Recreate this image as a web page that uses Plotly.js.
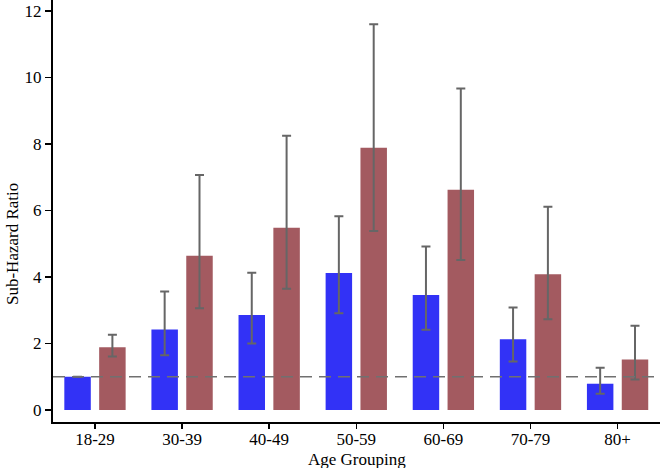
<!DOCTYPE html>
<html>
<head>
<meta charset="utf-8">
<script src="https://cdn.plot.ly/plotly-3.0.1.min.js"></script>
<style>html,body{margin:0;padding:0;background:#fff;}#chart{width:660px;height:468px;}</style>
</head>
<body>
<div id="chart"></div>
<script>
const categories = ["18-29","30-39","40-49","50-59","60-69","70-79","80+"];
const blueValues = [1.0, 2.42, 2.86, 4.12, 3.46, 2.13, 0.79];
const blueUpper  = [1.0, 3.56, 4.13, 5.83, 4.92, 3.08, 1.27];
const blueLower  = [1.0, 1.65, 2.00, 2.91, 2.41, 1.46, 0.49];
const redValues  = [1.89, 4.64, 5.48, 7.89, 6.62, 4.08, 1.52];
const redUpper   = [2.26, 7.07, 8.25, 11.6, 9.67, 6.11, 2.53];
const redLower   = [1.61, 3.06, 3.65, 5.38, 4.51, 2.73, 0.92];
const yTicks = [0, 2, 4, 6, 8, 10, 12];
const referenceLine = 1;

function errs(vals, up, lo) {
  return {
    type: 'data', symmetric: false,
    array: up.map((u, i) => u - vals[i]),
    arrayminus: lo.map((l, i) => vals[i] - l),
    color: '#666666', thickness: 2, width: 4.5
  };
}

const traces = [
  {type: 'bar', x: categories, y: blueValues, marker: {color: '#3232f6'},
   error_y: errs(blueValues, blueUpper, blueLower), hoverinfo: 'skip'},
  {type: 'bar', x: categories, y: redValues, marker: {color: '#a35a60'},
   error_y: errs(redValues, redUpper, redLower), hoverinfo: 'skip'}
];

const font = {family: 'Liberation Serif, Times New Roman, serif', size: 17, color: '#000'};

const layout = {
  width: 660, height: 468,
  margin: {l: 53, r: 0, t: 0, b: 46, pad: 0},
  paper_bgcolor: '#fff', plot_bgcolor: '#fff',
  showlegend: false,
  barmode: 'group', bargap: 0.2, bargroupgap: 0.24,
  font: font,
  xaxis: {
    type: 'category', range: [-0.482, 6.487],
    showline: true, linecolor: '#000', linewidth: 2,
    ticks: 'outside', ticklen: 5, tickcolor: '#000', tickwidth: 1.5,
    ticklabelstandoff: -4,
    showgrid: false, zeroline: false, tickfont: font
  },
  yaxis: {
    range: [-0.361, 12.33], tickvals: yTicks, ticktext: yTicks.map(String),
    showline: true, linecolor: '#000', linewidth: 2,
    ticks: 'outside', ticklen: 6, tickcolor: '#000', tickwidth: 1.5,
    showgrid: false, zeroline: false, tickfont: font
  },
  shapes: [{
    type: 'line', xref: 'paper', x0: 0, x1: 1, yref: 'y', y0: referenceLine, y1: referenceLine,
    line: {color: '#707070', width: 1.5, dash: '12px,7px'}
  }],
  annotations: [
    {text: 'Sub-Hazard Ratio', xref: 'paper', yref: 'paper', x: -41/607, y: (422-244)/422,
     xanchor: 'center', yanchor: 'middle', textangle: -90, showarrow: false, font: font},
    {text: 'Age Grouping', xref: 'paper', yref: 'paper', x: 0.5, y: (422-460)/422,
     xanchor: 'center', yanchor: 'middle', showarrow: false, font: font}
  ]
};

Plotly.newPlot('chart', traces, layout, {displayModeBar: false, staticPlot: true});
</script>
</body>
</html>
